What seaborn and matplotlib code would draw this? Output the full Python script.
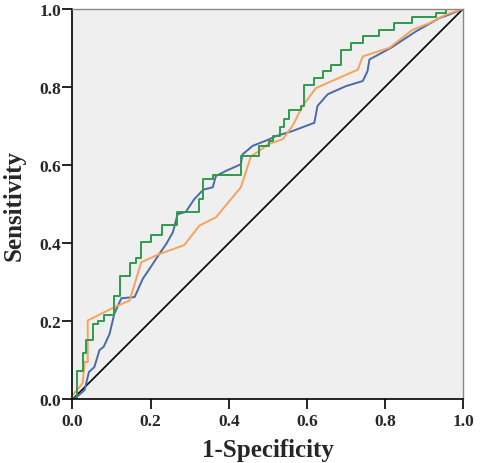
import numpy as np
import pandas as pd
import seaborn as sns
import matplotlib.pyplot as plt

# ROC curves (1-specificity, sensitivity)
green_x = [0, 0.011, 0.011, 0.026, 0.026, 0.035, 0.035, 0.052, 0.052, 0.065, 0.065, 0.08, 0.08,
           0.106, 0.106, 0.122, 0.122, 0.148, 0.148, 0.163, 0.163, 0.176, 0.176, 0.2, 0.2,
           0.229, 0.229, 0.267, 0.267, 0.325, 0.325, 0.335, 0.335, 0.36, 0.36, 0.431, 0.431,
           0.478, 0.478, 0.504, 0.504, 0.512, 0.512, 0.53, 0.53, 0.542, 0.542, 0.555, 0.555,
           0.585, 0.585, 0.593, 0.593, 0.619, 0.619, 0.64, 0.64, 0.662, 0.662, 0.687, 0.687,
           0.713, 0.713, 0.743, 0.743, 0.785, 0.785, 0.824, 0.824, 0.870, 0.870, 0.93, 0.93,
           0.956, 0.956, 1.0]
green_y = [0, 0, 0.072, 0.072, 0.12, 0.12, 0.152, 0.152, 0.194, 0.194, 0.2, 0.2, 0.215,
           0.215, 0.266, 0.266, 0.315, 0.315, 0.349, 0.349, 0.361, 0.361, 0.404, 0.404, 0.42,
           0.42, 0.446, 0.446, 0.48, 0.48, 0.513, 0.513, 0.564, 0.564, 0.575, 0.575, 0.623,
           0.623, 0.649, 0.649, 0.661, 0.661, 0.674, 0.674, 0.698, 0.698, 0.717, 0.717, 0.74,
           0.74, 0.751, 0.751, 0.806, 0.806, 0.823, 0.823, 0.84, 0.84, 0.857, 0.857, 0.895,
           0.895, 0.913, 0.913, 0.931, 0.931, 0.946, 0.946, 0.963, 0.963, 0.98, 0.98, 0.99,
           0.99, 1.0, 1.0]

blue_x = [0, 0.015, 0.031, 0.042, 0.056, 0.069, 0.08, 0.095, 0.107, 0.125, 0.159, 0.18, 0.197,
          0.222, 0.24, 0.257, 0.269, 0.29, 0.312, 0.335, 0.359, 0.367, 0.393, 0.431, 0.435,
          0.461, 0.504, 0.521, 0.563, 0.619, 0.627, 0.653, 0.7, 0.743, 0.755, 0.76, 0.815,
          0.879, 0.939, 0.964, 1.0]
blue_y = [0, 0.01, 0.024, 0.07, 0.083, 0.126, 0.135, 0.168, 0.219, 0.259, 0.262, 0.309, 0.334,
          0.372, 0.398, 0.428, 0.474, 0.48, 0.513, 0.537, 0.543, 0.572, 0.585, 0.602, 0.627,
          0.649, 0.666, 0.674, 0.687, 0.708, 0.751, 0.781, 0.802, 0.815, 0.84, 0.87, 0.9,
          0.942, 0.976, 0.985, 1.0]

orange_x = [0, 0.026, 0.031, 0.039, 0.039, 0.107, 0.146, 0.176, 0.222, 0.286, 0.325, 0.367,
            0.406, 0.431, 0.457, 0.478, 0.5, 0.538, 0.563, 0.589, 0.623, 0.73, 0.743, 0.811,
            0.870, 0.913, 0.956, 1.0]
orange_y = [0.011, 0.041, 0.096, 0.096, 0.202, 0.236, 0.253, 0.351, 0.372, 0.395, 0.445, 0.466,
            0.513, 0.543, 0.623, 0.636, 0.653, 0.666, 0.7, 0.751, 0.797, 0.844, 0.878, 0.9,
            0.946, 0.963, 0.985, 1.0]

ref = [0, 1]
ticks = [0.0, 0.2, 0.4, 0.6, 0.8, 1.0]

sns.set_style("white")
plt.rcParams['font.family'] = ['Liberation Serif', 'DejaVu Serif']

fig = plt.figure(figsize=(4.8, 4.64), dpi=100)
ax = fig.add_axes([0.151, 0.137, 0.814, 0.842])
ax.set_facecolor("#efefef")

sns.lineplot(x=ref, y=ref, color="black", lw=1.2, ax=ax)
sns.lineplot(x=blue_x, y=blue_y, sort=False, estimator=None, color="#4a6aa8", lw=1.4, ax=ax)
sns.lineplot(x=orange_x, y=orange_y, sort=False, estimator=None, color="#f5a35c", lw=1.4, ax=ax)
sns.lineplot(x=green_x, y=green_y, sort=False, estimator=None, color="#2e9a4e", lw=1.4, ax=ax)

ax.set_xlim(0, 1)
ax.set_ylim(0, 1)
ax.set_xticks(ticks)
ax.set_yticks(ticks)
ax.set_xticklabels([f"{t:.1f}" for t in ticks], fontsize=12.5, fontweight="bold")
ax.set_yticklabels([f"{t:.1f}" for t in ticks], fontsize=12.5, fontweight="bold")
ax.tick_params(direction="out", length=7, width=1.2, color="black", pad=1, bottom=True, left=True)
ax.tick_params(axis="x", pad=3)

for s in ["left", "bottom"]:
    ax.spines[s].set_color("black")
    ax.spines[s].set_linewidth(1.2)
for s in ["top", "right"]:
    ax.spines[s].set_color("#888888")
    ax.spines[s].set_linewidth(1.0)

ax.set_xlabel("1-Specificity", fontsize=18, fontweight="bold", labelpad=6)
ax.set_ylabel("Sensitivity", fontsize=18, fontweight="bold", labelpad=10)

fig.savefig("out.png", dpi=100)
